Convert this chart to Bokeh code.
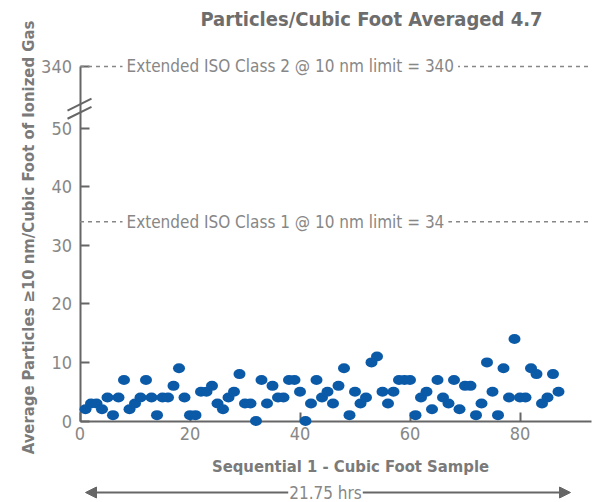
from math import pi
from bokeh.plotting import figure
from bokeh.models import (ColumnDataSource, LinearAxis, FixedTicker, Range1d,
                          Label, Arrow, NormalHead)
from bokeh.embed import file_html
from bokeh.resources import INLINE

# ---------------- data ----------------
sample = list(range(1, 88))
particles = [2, 3, 3, 2, 4, 1, 4, 7, 2, 3,
             4, 7, 4, 1, 4, 4, 6, 9, 4, 1,
             1, 5, 5, 6, 3, 2, 4, 5, 8, 3,
             3, 0, 7, 3, 6, 4, 4, 7, 7, 5,
             0, 3, 7, 4, 5, 3, 6, 9, 1, 5,
             3, 4, 10, 11, 5, 3, 5, 7, 7, 7,
             1, 4, 5, 2, 7, 4, 3, 7, 2, 6,
             6, 1, 3, 10, 5, 1, 9, 4, 14, 4,
             4, 9, 8, 3, 4, 8, 5]
x_ticks = [0, 20, 40, 60, 80]
y_tick_values = [0, 10, 20, 30, 40, 50, 340]
limit_values = [34, 340]
limit_labels = ["Extended ISO Class 1 @ 10 nm limit = 34",
                "Extended ISO Class 2 @ 10 nm limit = 340"]
title_text = "Particles/Cubic Foot Averaged 4.7"
x_label = "Sequential 1 - Cubic Foot Sample"
y_label = "Average Particles \u226510 nm/Cubic Foot of Ionized Gas"
duration_label = "21.75 hrs"

# ---------------- broken axis mapping ----------------
BREAK_MAX = 50      # values up to here plotted linearly
BREAK_POS = 60.5    # where values above the break are placed


def axis_pos(v):
    return v if v <= BREAK_MAX else BREAK_POS


# ---------------- layout ----------------
W, H = 595, 502
X0, XS = 79.5, 5.5     # px of x=0, px per unit
Y0, YS = 420.5, 5.86   # px of y=0, px per unit


def dx(px):
    return (px - X0) / XS


def dy(py):
    return (Y0 - py) / YS


FONT = "DejaVu Sans Condensed, Liberation Sans Narrow, Roboto Condensed, Roboto"
AXIS_COLOR = "#666666"
TEXT_COLOR = "#7a7a7a"
LIGHT_TEXT = "#878787"

p = figure(width=W, height=H, x_range=Range1d(dx(0), dx(W)),
           y_range=Range1d(dy(H), dy(0)), x_axis_location=None,
           y_axis_location=None, toolbar_location=None,
           output_backend="svg", min_border=0, title=None)
p.outline_line_color = None
p.background_fill_color = "white"
for g in p.grid:
    g.visible = False

# axes
yaxis = LinearAxis(fixed_location=0, bounds=(0, axis_pos(340)),
                   ticker=FixedTicker(ticks=[axis_pos(v) for v in y_tick_values]),
                   major_label_overrides={axis_pos(v): str(v) for v in y_tick_values})
xaxis = LinearAxis(fixed_location=0, bounds=(0, 93),
                   ticker=FixedTicker(ticks=x_ticks))
for ax, standoff in ((yaxis, 8), (xaxis, 6)):
    ax.axis_line_color = AXIS_COLOR
    ax.axis_line_width = 2
    ax.major_tick_line_color = AXIS_COLOR
    ax.major_tick_line_width = 2
    ax.major_tick_in = 9
    ax.major_tick_out = 0
    ax.minor_tick_line_color = None
    ax.major_label_text_font = FONT
    ax.major_label_text_font_size = "18px"
    ax.major_label_text_color = LIGHT_TEXT
    ax.major_label_standoff = standoff
    ax.level = "underlay"
p.add_layout(yaxis, "left")
p.add_layout(xaxis, "below")

# axis break marks
for by in (54.0, 52.6):
    p.segment(x0=dx(X0 - 12.5), y0=by - 1.02, x1=dx(X0 + 11.5), y1=by + 1.02,
              line_color=AXIS_COLOR, line_width=2)

# limit lines
lim_src = ColumnDataSource(dict(y=[axis_pos(v) for v in limit_values],
                                x0=[0] * len(limit_values),
                                x1=[93] * len(limit_values)))
p.segment(x0="x0", y0="y", x1="x1", y1="y", source=lim_src,
          line_color=LIGHT_TEXT, line_width=1.5, line_dash="4 4")
for v, txt in zip(limit_values, limit_labels):
    p.add_layout(Label(x=dx(122), y=axis_pos(v), text=txt,
                       text_font=FONT, text_font_size="17px",
                       text_color=LIGHT_TEXT, text_align="left",
                       text_baseline="middle", background_fill_color="white",
                       padding=4))

# points
src = ColumnDataSource(dict(x=sample, y=particles))
p.ellipse(x="x", y="y", width=12, height=10, width_units="screen",
          height_units="screen", source=src, fill_color="#0b5aa8",
          line_color=None)

# titles / labels
p.add_layout(Label(x=dx(371), y=dy(18), text=title_text, text_font=FONT,
                   text_font_size="20px", text_font_style="bold",
                   text_color="#6d6d6d", text_align="center",
                   text_baseline="middle"))
p.add_layout(Label(x=dx(28), y=dy(237), text=y_label, text_font=FONT,
                   text_font_size="16.5px", text_font_style="bold",
                   text_color=TEXT_COLOR, text_align="center",
                   text_baseline="middle", angle=pi / 2))
p.add_layout(Label(x=dx(350), y=dy(466), text=x_label, text_font=FONT,
                   text_font_size="16.5px", text_font_style="bold",
                   text_color=TEXT_COLOR, text_align="center",
                   text_baseline="middle"))

# duration arrow
ay = dy(492)
p.add_layout(Arrow(x_start=dx(85), y_start=ay, x_end=dx(570), y_end=ay,
                   line_color=AXIS_COLOR, line_width=2,
                   start=NormalHead(size=11, fill_color=AXIS_COLOR, line_color=AXIS_COLOR),
                   end=NormalHead(size=11, fill_color=AXIS_COLOR, line_color=AXIS_COLOR)))
p.add_layout(Label(x=dx(325), y=ay, text=duration_label, text_font=FONT,
                   text_font_size="17px", text_color=LIGHT_TEXT,
                   text_align="center", text_baseline="middle",
                   background_fill_color="white", padding=1))

open("out.html", "w").write(file_html(p, INLINE))
